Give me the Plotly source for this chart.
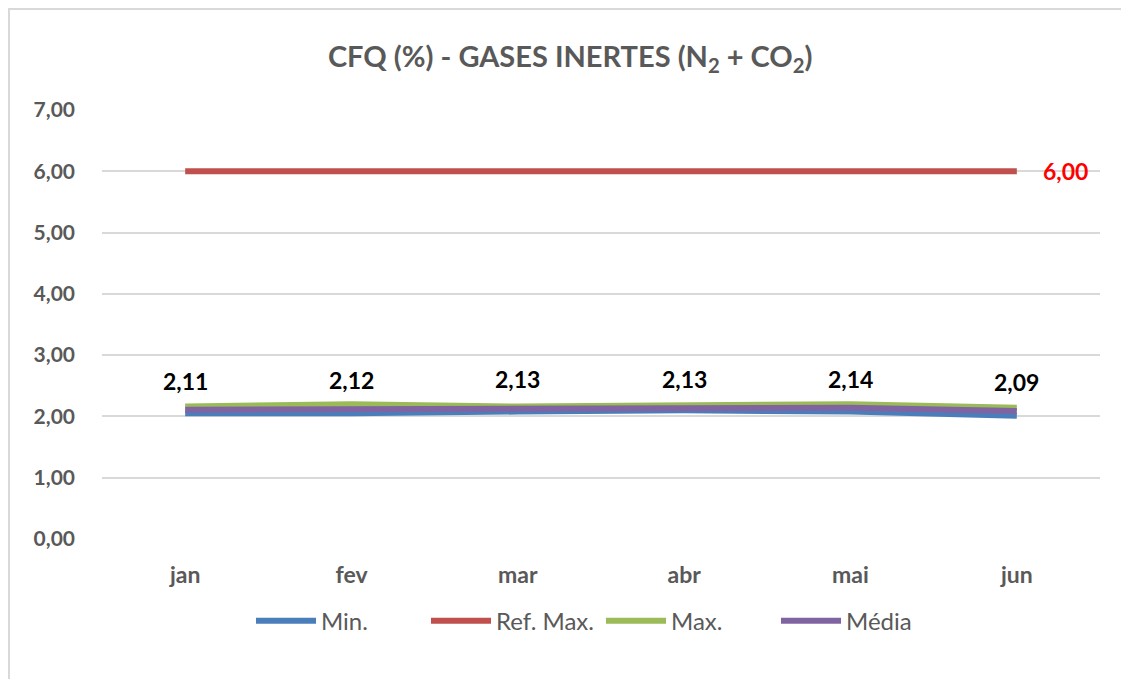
import plotly.graph_objects as go

months = ["jan", "fev", "mar", "abr", "mai", "jun"]
min_vals = [2.05, 2.05, 2.08, 2.10, 2.08, 2.01]
ref_max = [6.00, 6.00, 6.00, 6.00, 6.00, 6.00]
max_vals = [2.16, 2.20, 2.16, 2.18, 2.20, 2.14]
media_vals = [2.11, 2.12, 2.13, 2.13, 2.14, 2.09]
y_ticks = [0, 1, 2, 3, 4, 5, 6, 7]

FONT = "Lato"
GRAY = "#595959"

fig = go.Figure()
series = [
    ("Min.", min_vals, "#4a7ebb"),
    ("Ref. Max.", ref_max, "#c0504d"),
    ("Max.", max_vals, "#9bbb59"),
    ("Média", media_vals, "#8064a2"),
]
for name, vals, col in series:
    fig.add_trace(go.Scatter(
        x=months, y=vals, name=name, mode="lines",
        line=dict(color=col, width=6),
    ))

annotations = []
for m, v in zip(months, media_vals):
    annotations.append(dict(
        x=m, y=v, xref="x", yref="y", text=f"{v:.2f}".replace(".", ","),
        showarrow=False, yshift=29,
        font=dict(family=FONT, size=23, color="black", weight="bold"),
    ))
annotations.append(dict(
    x=months[-1], y=ref_max[-1], xref="x", yref="y",
    text=f"{ref_max[-1]:.2f}".replace(".", ","), showarrow=False,
    xanchor="left", xshift=24,
    font=dict(family=FONT, size=23, color="#ff0000", weight="bold"),
))

L, R, T, B = 94, 37, 102, 148
PW = 1129 - L - R
PH = 679 - T - B

fig.update_layout(
    width=1129, height=679,
    paper_bgcolor="white", plot_bgcolor="white",
    separators=",.",
    margin=dict(l=L, r=R, t=T, b=B),
    title=dict(
        text="CFQ (%) - GASES INERTES (N<sub>2</sub> + CO<sub>2</sub>)",
        x=0.498, xanchor="center", y=0.928, yanchor="middle",
        font=dict(family=FONT, size=29, color=GRAY, weight="bold"),
    ),
    xaxis=dict(
        showgrid=False, showline=False, zeroline=False, ticks="",
        tickfont=dict(family=FONT, size=23, color=GRAY, weight="bold"),
        range=[-0.5, 5.5], ticklabelstandoff=20,
    ),
    yaxis=dict(
        range=[0, 7], tickvals=y_ticks, tickformat=".2f",
        showgrid=True, gridcolor="#d9d9d9", gridwidth=1.5,
        zeroline=False, showline=False, ticks="",
        tickfont=dict(family=FONT, size=21, color=GRAY, weight="bold"),
        ticklabelstandoff=26,
    ),
    legend=dict(
        orientation="h", x=0.5, xanchor="center", y=-0.139, yanchor="top",
        font=dict(family=FONT, size=24, color=GRAY),
        itemwidth=60, tracegroupgap=0, entrywidth=100,
    ),
    annotations=annotations,
    shapes=[dict(type="rect", xref="paper", yref="paper",
                 x0=(-L + 1) / PW, x1=1.05, y0=-0.35, y1=1 + (T - 1) / PH,
                 line=dict(color="#d9d9d9", width=2))],
)
fig.write_html("out.html")
